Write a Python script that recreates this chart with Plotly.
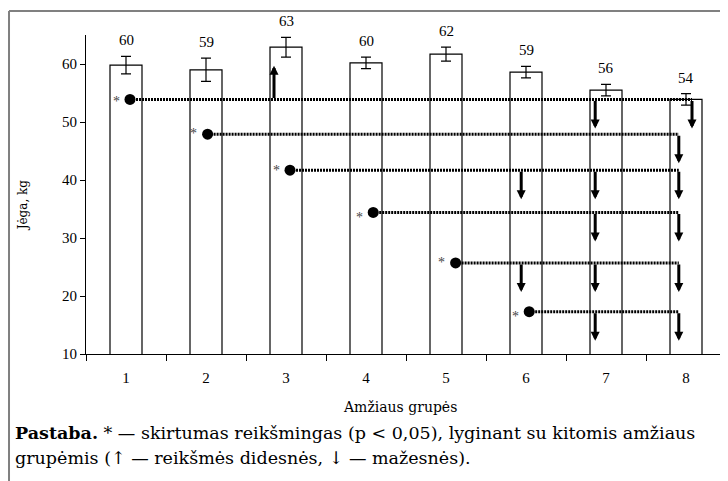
import plotly.graph_objects as go

# ---------------- data ----------------
GROUPS = [1, 2, 3, 4, 5, 6, 7, 8]
MEANS = [59.8, 59.0, 62.9, 60.2, 61.7, 58.6, 55.5, 53.9]
ERRS = [1.5, 2.0, 1.7, 1.0, 1.2, 1.0, 1.0, 1.0]
LABELS = ["60", "59", "63", "60", "62", "59", "56", "54"]

# significance rows: reference group, groups with higher / lower values
SIG_REF = [1, 2, 3, 4, 5, 6]
SIG_HIGHER = [[3], [], [], [], [], []]
SIG_LOWER = [[7, 8], [8], [6, 7, 8], [7, 8], [6, 7, 8], [7, 8]]

Y_TICKS = [10, 20, 30, 40, 50, 60]
X_TITLE = "Amžiaus grupės"
Y_TITLE = "Jėga, kg"
NOTE_1 = "<b>Pastaba.</b> * — skirtumas reikšmingas (p &lt; 0,05), lyginant su kitomis amžiaus"
NOTE_2 = "grupėmis (↑ — reikšmės didesnės, ↓ — mažesnės)."

# ---------------- layout helpers (positions / styles) ----------------
ROW_Y = [53.9, 47.9, 41.7, 34.4, 25.7, 17.3]
DOT_DX = [0.05, 0.02, 0.05, 0.09, 0.12, 0.04]
ROW_END_DX = [0.075, -0.09, -0.09, -0.09, -0.09, -0.09]
ARROW_DX = {3: -0.15, 6: -0.06, 7: -0.135}
STAR_YSHIFT = [-2, 1, 0, -5, 0, -5]
ARROW_LEN = 5.0
FONT = "Times New Roman, Liberation Serif, serif"
WIDE = "DejaVu Serif, serif"
NOTE_SIZE = 17.5

PLOT_L, PLOT_W = 86, 640          # plot area in page pixels
NOTE_X0 = 13

fig = go.Figure()

fig.add_trace(go.Bar(
    x=GROUPS, y=MEANS, width=0.4,
    marker=dict(color="white", line=dict(color="black", width=1.2)),
    error_y=dict(type="data", array=ERRS, color="black", thickness=1.2, width=5),
    showlegend=False, hoverinfo="skip",
))

annotations = []

for i, g in enumerate(SIG_REF):
    y = ROW_Y[i]
    x0 = g + DOT_DX[i]
    x1 = 8 + ROW_END_DX[i]
    fig.add_trace(go.Scatter(
        x=[x0, x1], y=[y, y], mode="lines",
        line=dict(color="black", width=3, dash="2px,1px"),
        showlegend=False, hoverinfo="skip",
    ))
    fig.add_trace(go.Scatter(
        x=[x0], y=[y], mode="markers",
        marker=dict(color="black", size=11),
        showlegend=False, hoverinfo="skip",
    ))
    annotations.append(dict(
        x=x0, y=y, xref="x", yref="y", text="*", showarrow=False,
        xshift=-14, yshift=STAR_YSHIFT[i],
        font=dict(family=FONT, size=14, color="#444"),
    ))
    for t in SIG_LOWER[i]:
        tx = x1 if t == 8 else t + ARROW_DX[t]
        annotations.append(dict(
            x=tx, y=y - ARROW_LEN, ax=tx, ay=y, xref="x", yref="y",
            axref="x", ayref="y", text="", showarrow=True,
            arrowhead=2, arrowsize=0.6, arrowwidth=3, arrowcolor="black",
        ))
    for t in SIG_HIGHER[i]:
        tx = t + ARROW_DX[t]
        annotations.append(dict(
            x=tx, y=y + ARROW_LEN + 0.8, ax=tx, ay=y, xref="x", yref="y",
            axref="x", ayref="y", text="", showarrow=True,
            arrowhead=2, arrowsize=0.6, arrowwidth=3, arrowcolor="black",
        ))

for g, m, e, lab in zip(GROUPS, MEANS, ERRS, LABELS):
    annotations.append(dict(
        x=g, y=m + e, xref="x", yref="y", text=lab, showarrow=False,
        yanchor="middle", yshift=16,
        font=dict(family=FONT, size=15, color="black"),
    ))

annotations.append(dict(
    x=-0.098, y=0.467, xref="paper", yref="paper", text=Y_TITLE,
    textangle=-90, showarrow=False, xanchor="center", yanchor="middle",
    font=dict(family=WIDE, size=12, color="black"),
))
annotations.append(dict(
    x=0.49, y=-0.166, xref="paper", yref="paper", text=X_TITLE,
    showarrow=False, xanchor="center", yanchor="middle",
    font=dict(family=WIDE, size=14, color="black"),
))
for txt, yy in ((NOTE_1, -0.2476), (NOTE_2, -0.326)):
    annotations.append(dict(
        x=(NOTE_X0 - PLOT_L) / PLOT_W, y=yy, xref="paper", yref="paper",
        text=txt, showarrow=False, xanchor="left", yanchor="middle",
        font=dict(family=WIDE, size=NOTE_SIZE, color="black"),
    ))

# the page body adds an 8px margin, so the figure is 8px smaller
fig.update_layout(
    width=720, height=473,
    margin=dict(l=78, r=2, t=27, b=127),
    paper_bgcolor="white", plot_bgcolor="white",
    font=dict(family=FONT, color="black"),
    annotations=annotations,
    shapes=[
        dict(type="line", xref="paper", yref="paper", x0=-0.1203, x1=-0.1203,
             y0=1.0752, y1=-0.40, line=dict(color="#808080", width=2)),
        dict(type="line", xref="paper", yref="paper", x0=-0.1203, x1=1.01,
             y0=1.0752, y1=1.0752, line=dict(color="#808080", width=2)),
    ],
    xaxis=dict(
        range=[0.5, 8.5], tickvals=GROUPS, ticktext=[str(g) for g in GROUPS],
        ticks="outside", ticklen=10, tickcolor="rgba(0,0,0,0)",
        showline=True, linecolor="black", linewidth=1, showgrid=False,
        zeroline=False, tickfont=dict(family=FONT, size=15),
        minor=dict(ticks="outside", tick0=0.5, dtick=1, ticklen=6,
                   tickcolor="black", showgrid=False),
    ),
    yaxis=dict(
        range=[10, 65], tickvals=Y_TICKS, ticks="outside", ticklen=5,
        tickcolor="black", showline=True, linecolor="black", linewidth=1,
        showgrid=False, zeroline=False, tickfont=dict(family=FONT, size=15),
    ),
)

fig.write_html("out.html")
